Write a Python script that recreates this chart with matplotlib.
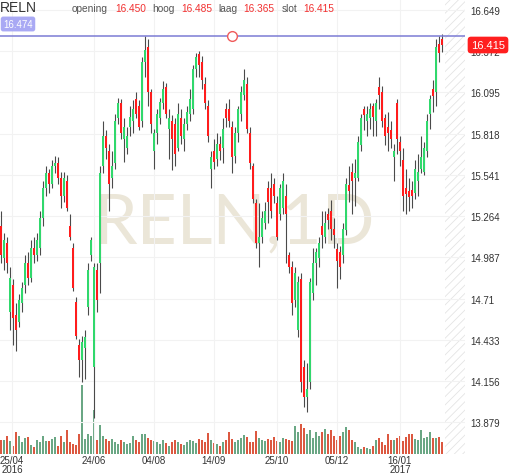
import matplotlib
matplotlib.use("Agg")
import matplotlib.pyplot as plt
import numpy as np

plt.rcParams['font.family'] = ['Liberation Sans', 'DejaVu Sans']
plt.rcParams['hatch.linewidth'] = 0.6

# daily candles RELN
opens = [15.20, 14.98, 15.08, 14.62, 14.80, 14.60, 14.55, 14.68, 14.80, 14.95,
         14.85, 15.05, 15.00, 15.05, 15.25, 15.45, 15.55, 15.48, 15.60, 15.62,
         15.52, 15.40, 15.50, 15.20, 15.05, 14.69, 14.40, 14.30, 14.38, 14.65,
         15.00, 14.25, 14.90, 14.95, 15.60, 15.80, 15.70, 15.52, 15.62, 15.92,
         16.02, 15.78, 15.72, 15.86, 15.90, 16.05, 16.00, 15.90, 16.30, 16.40,
         16.10, 15.70, 15.82, 15.92, 16.02, 16.13, 15.85, 15.90, 15.88, 15.72,
         15.92, 15.78, 15.88, 15.95, 15.98, 16.25, 16.35, 16.30, 16.15, 16.00,
         15.58, 15.70, 15.65, 15.75, 15.72, 15.98, 15.98, 15.86, 15.67, 15.82,
         15.95, 16.08, 16.15, 15.82, 15.60, 15.35, 15.08, 15.12, 15.22, 15.45,
         15.45, 15.48, 15.35, 15.28, 15.32, 15.40, 15.00, 14.92, 14.70, 14.50,
         14.84, 14.25, 14.05, 14.15, 14.75, 14.95, 14.98, 15.20, 15.12, 15.28,
         15.30, 15.18, 15.04, 15.02, 15.00, 15.17, 15.47, 15.56, 15.52, 15.52,
         15.74, 15.98, 15.90, 15.92, 16.00, 15.90, 16.13, 16.10, 15.92, 15.86,
         15.84, 15.66, 16.02, 15.76, 15.64, 15.45, 15.43, 15.44, 15.42, 15.50,
         15.58, 15.56, 15.70, 15.95, 16.12, 16.10, 16.42, 16.45]
highs = [15.30, 15.15, 15.12, 14.92, 14.84, 14.68, 14.74, 14.82, 15.00, 15.02,
         15.10, 15.12, 15.15, 15.30, 15.50, 15.60, 15.58, 15.64, 15.67, 15.66,
         15.56, 15.56, 15.54, 15.28, 15.08, 14.72, 14.44, 14.46, 14.50, 14.95,
         15.12, 14.95, 14.95, 15.60, 15.90, 15.84, 15.75, 15.70, 15.95, 16.06,
         16.05, 15.92, 15.86, 16.00, 16.04, 16.10, 16.04, 16.33, 16.47, 16.45,
         16.12, 15.85, 15.98, 16.06, 16.17, 16.16, 15.98, 15.94, 15.92, 16.02,
         15.98, 15.92, 16.00, 16.12, 16.28, 16.36, 16.37, 16.34, 16.20, 16.04,
         15.70, 15.78, 15.82, 15.80, 15.92, 16.02, 16.05, 15.90, 15.86, 16.00,
         16.14, 16.25, 16.20, 15.86, 15.62, 15.38, 15.35, 15.30, 15.36, 15.50,
         15.55, 15.52, 15.40, 15.48, 15.55, 15.48, 15.02, 14.96, 14.92, 14.86,
         14.88, 14.30, 14.28, 14.85, 15.05, 15.05, 15.12, 15.30, 15.30, 15.32,
         15.37, 15.25, 15.08, 15.06, 15.22, 15.52, 15.60, 15.62, 15.65, 15.80,
         15.95, 16.00, 16.00, 16.02, 16.02, 16.05, 16.20, 16.14, 15.95, 15.96,
         15.90, 15.75, 16.05, 15.80, 15.72, 15.58, 15.52, 15.50, 15.64, 15.68,
         15.80, 15.76, 15.95, 16.08, 16.18, 16.45, 16.47, 16.485]
lows = [14.95, 14.90, 14.88, 14.50, 14.40, 14.36, 14.52, 14.62, 14.75, 14.80,
        14.82, 14.95, 14.96, 15.00, 15.20, 15.40, 15.42, 15.45, 15.55, 15.48,
        15.32, 15.36, 15.30, 15.10, 14.76, 14.44, 14.18, 14.15, 14.17, 14.60,
        14.96, 13.91, 14.62, 14.75, 15.55, 15.65, 15.30, 15.45, 15.58, 15.88,
        15.78, 15.63, 15.68, 15.80, 15.82, 15.92, 15.84, 15.86, 16.20, 16.00,
        15.82, 15.58, 15.75, 15.88, 15.98, 15.92, 15.65, 15.57, 15.60, 15.70,
        15.75, 15.70, 15.84, 15.90, 15.95, 16.20, 16.20, 16.12, 15.98, 15.76,
        15.45, 15.58, 15.60, 15.64, 15.62, 15.86, 15.86, 15.55, 15.62, 15.76,
        15.90, 16.04, 15.82, 15.58, 15.35, 15.05, 14.92, 15.08, 15.18, 15.22,
        15.25, 15.35, 15.10, 15.24, 15.28, 14.95, 14.88, 14.60, 14.65, 14.45,
        14.08, 13.98, 13.95, 14.10, 14.70, 14.80, 14.92, 15.05, 15.08, 15.18,
        15.10, 15.05, 14.78, 14.84, 14.95, 15.14, 15.36, 15.28, 15.33, 15.50,
        15.70, 15.84, 15.80, 15.85, 15.80, 15.80, 15.98, 15.86, 15.74, 15.70,
        15.72, 15.50, 15.68, 15.60, 15.30, 15.28, 15.30, 15.32, 15.38, 15.40,
        15.55, 15.54, 15.66, 15.85, 15.96, 16.00, 16.30, 16.365]
closes = [15.00, 15.10, 14.95, 14.85, 14.58, 14.50, 14.70, 14.78, 14.95, 14.85,
          15.05, 15.00, 15.10, 15.25, 15.45, 15.55, 15.48, 15.60, 15.62, 15.52,
          15.40, 15.52, 15.32, 15.12, 14.78, 14.46, 14.30, 14.42, 14.45, 14.90,
          15.10, 14.92, 14.70, 15.55, 15.80, 15.72, 15.48, 15.60, 15.90, 16.02,
          15.82, 15.86, 15.80, 15.93, 15.98, 15.95, 15.86, 16.30, 16.38, 16.10,
          15.88, 15.82, 15.95, 16.03, 16.12, 15.95, 15.92, 15.78, 15.68, 15.95,
          15.80, 15.88, 15.96, 16.05, 16.25, 16.33, 16.28, 16.18, 16.02, 15.80,
          15.66, 15.63, 15.75, 15.70, 15.85, 15.92, 15.90, 15.66, 15.82, 15.98,
          16.10, 16.18, 15.85, 15.62, 15.38, 15.08, 15.12, 15.25, 15.30, 15.36,
          15.30, 15.40, 15.12, 15.45, 15.50, 15.28, 14.92, 14.68, 14.88, 14.82,
          14.15, 14.05, 14.10, 14.82, 14.95, 15.02, 15.08, 15.14, 15.22, 15.24,
          15.18, 15.14, 14.96, 14.92, 15.18, 15.48, 15.43, 15.50, 15.55, 15.76,
          15.92, 15.94, 15.95, 15.98, 15.93, 16.02, 16.08, 15.90, 15.80, 15.82,
          15.78, 15.70, 15.78, 15.70, 15.40, 15.41, 15.39, 15.40, 15.58, 15.56,
          15.66, 15.72, 15.90, 16.05, 16.07, 16.40, 16.36, 16.415]
volumes = [14, 14, 18, 13, 8, 22, 18, 12, 16, 17,
           9, 7, 14, 12, 18, 13, 13, 15, 17, 8,
           18, 12, 24, 12, 10, 9, 20, 69, 15, 20,
           18, 44, 14, 29, 18, 15, 13, 15, 12, 10,
           14, 12, 10, 11, 18, 14, 12, 20, 20, 16,
           14, 13, 12, 10, 14, 11, 8, 12, 14, 12,
           10, 9, 12, 14, 13, 11, 15, 14, 12, 21,
           14, 11, 10, 8, 12, 14, 22, 15, 12, 14,
           16, 19, 17, 12, 12, 23, 16, 14, 13, 15,
           14, 17, 13, 12, 16, 15, 14, 13, 28, 22,
           30, 26, 20, 24, 16, 22, 18, 22, 25, 20,
           24, 18, 14, 18, 22, 27, 24, 14, 12, 7,
           5, 7, 6, 5, 8, 14, 16, 12, 9, 20,
           14, 14, 16, 18, 13, 17, 20, 20, 15, 14,
           24, 16, 17, 22, 16, 16, 17, 12]

date_pos = [3.7, 31, 51, 71, 92, 112, 133]
date_labels = ['25/04\n2016', '24/06', '04/08', '14/09', '25/10', '05/12', '16/01\n2017']
price_ticks = [13.879, 14.156, 14.433, 14.71, 14.987, 15.264, 15.541,
               15.818, 16.095, 16.372, 16.649]
hline_price = 16.474

o = np.array(opens)
h = np.array(highs)
l = np.array(lows)
c = np.array(closes)
v = np.array(volumes)
x = np.arange(len(c))
up = c >= o

W, H = 512, 477
fig = plt.figure(figsize=(W / 100, H / 100), dpi=100)
ax = fig.add_axes([0, 22 / H, 465 / W, 455 / H])
axv = ax.twinx()
ax.set_zorder(2)
ax.patch.set_visible(False)

# volume underneath
vcol = np.where(up, '#6aa784', '#dc5840')
axv.bar(x, v, width=0.9, color=vcol, linewidth=0)
axv.set_ylim(0, 455)
axv.axis('off')

# candles
ax.vlines(x, l, h, color='#4a4a4a', linewidth=0.8, zorder=3)
body = np.maximum(np.abs(c - o), 0.008)
ax.bar(x, body, bottom=np.minimum(o, c), width=0.62,
       color=np.where(up, '#30d86c', '#ff1c1c'), linewidth=0, zorder=4)

ax.set_xlim(-1 / 3, 155 - 1 / 3)
ax.set_ylim(13.666, 16.7215)

ax.axvspan(148, 155, facecolor='none', edgecolor='#e4e4e4', hatch='////',
           linewidth=0, zorder=1)

ax.set_yticks(price_ticks)
ax.set_yticklabels([f'{t:g}' if t == 14.71 else f'{t:.3f}' for t in price_ticks])
ax.yaxis.tick_right()
ax.set_xticks(date_pos)
ax.set_xticklabels(date_labels, linespacing=0.85)
ax.tick_params(length=0, labelsize=7, colors='#333333')
ax.tick_params(axis='y', pad=4)
ax.tick_params(axis='x', pad=1)
ax.grid(True, color='#f2f2f2', linewidth=0.8, zorder=0)
for s in ax.spines.values():
    s.set_visible(False)

ax.axhline(hline_price, color='#7c7cd4', linewidth=1.1, zorder=5)
ax.plot([77], [hline_price], 'o', mfc='white', mec='#f05a5a', ms=7, mew=1, zorder=6)

ax.text(0.505, 0.508, 'RELN,1D', transform=ax.transAxes, fontsize=50,
        color='#ebe6d8', ha='center', va='center', zorder=0.5,
        family=['Lato', 'Liberation Sans'])


def px(xp, yp):
    return xp / W, 1 - yp / H


fig.text(*px(0, 8), 'RELN', fontsize=10, color='#333333', va='center', ha='left')
header = [(72, 'opening', '#555555'), (115, '16.450', '#f23030'),
          (152, 'hoog', '#555555'), (181, '16.485', '#f23030'),
          (218, 'laag', '#555555'), (243, '16.365', '#f23030'),
          (282, 'slot', '#555555'), (303, '16.415', '#f23030')]
for xp, txt, col in header:
    fig.text(*px(xp, 9), txt, fontsize=7.3, color=col, va='center', ha='left')

fig.text(*px(18, 25), f'{hline_price:.3f}', fontsize=7, color='white', ha='center',
         va='center', bbox=dict(boxstyle='round,pad=0.25', fc='#a9a9f4', ec='none'))
fig.text(*px(488, 46), f'{closes[-1]:.3f}', fontsize=8, color='white', ha='center',
         va='center', zorder=10,
         bbox=dict(boxstyle='round,pad=0.3', fc='#ff1f1f', ec='none'))

fig.savefig('out.png', dpi=100)
